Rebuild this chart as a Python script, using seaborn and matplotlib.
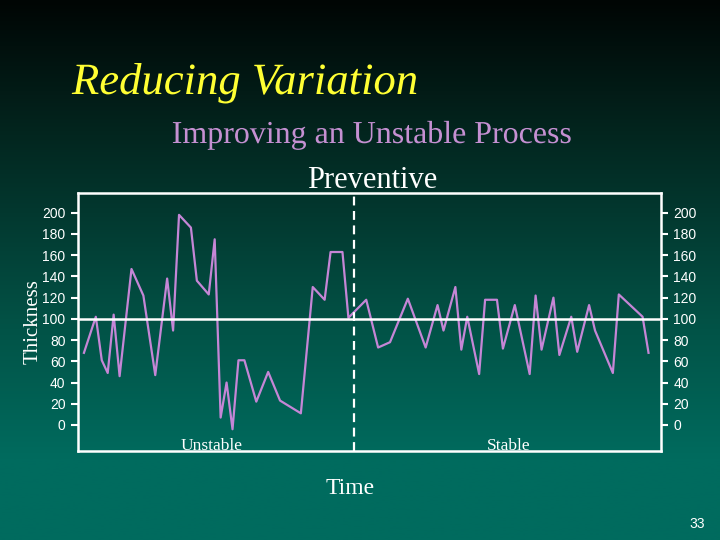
import numpy as np
import pandas as pd
import matplotlib
matplotlib.use("Agg")
import matplotlib.pyplot as plt
import matplotlib.patheffects as pe
from matplotlib import font_manager as fm
from matplotlib.colors import LinearSegmentedColormap
import seaborn as sns

# Data (time index vs thickness)
time = [0, 2, 3, 4, 5, 6, 8, 10, 12, 14, 15, 16, 18, 19, 21, 22, 23, 24,
        25, 26, 27, 29, 31, 33, 36.5, 38.5, 40.5, 41.5, 43.5, 44.5,
        47.5, 49.5, 51.5, 54.5, 57.5, 59.5, 60.5, 62.5, 63.5, 64.5, 66.5, 67.5,
        69.5, 70.5, 72.5, 75, 76, 77, 79, 80, 82, 83, 85, 86, 89, 90, 94, 95]
thickness = [68, 102, 61, 49, 104, 46, 147, 122, 47, 138, 89, 198, 186, 136, 123, 175, 7, 40,
             -4, 61, 61, 22, 50, 23, 11, 130, 118, 163, 163, 101,
             118, 73, 78, 119, 73, 113, 89, 130, 71, 102, 48, 118,
             118, 72, 113, 48, 122, 71, 120, 66, 102, 69, 113, 89, 49, 123, 102, 68]
y_ticks = [0, 20, 40, 60, 80, 100, 120, 140, 160, 180, 200]
target = 100
split_time = 45.45
phase_labels = ["Unstable", "Stable"]
phase_pos = [21.5, 71.4]

df = pd.DataFrame({"time": time, "thickness": thickness})

SERIF = "Liberation Serif"
SANS = "Liberation Sans"
LINE_COLOR = "#c586d6"

# pick a serif italic that is actually installed
styles = {(f.name, f.style) for f in fm.fontManager.ttflist}
ITALIC_SERIF = SERIF
for cand in ["Liberation Serif", "DejaVu Serif", "Noto Serif"]:
    if (cand, "italic") in styles or (cand, "oblique") in styles:
        ITALIC_SERIF = cand
        break

fig = plt.figure(figsize=(7.2, 5.4), dpi=100)

# background gradient (black at top to teal at bottom)
bg = fig.add_axes([0, 0, 1, 1], zorder=-10)
cmap = LinearSegmentedColormap.from_list(
    "slide", [(0.0, "#000504"), (0.25, "#03261f"), (0.6, "#025246"), (0.85, "#006b5e"), (1.0, "#006b5e")])
grad = np.linspace(0, 1, 256).reshape(-1, 1)
bg.imshow(grad, aspect="auto", cmap=cmap, extent=[0, 1, 0, 1], origin="upper")
bg.axis("off")

ax = fig.add_axes([78 / 720, 1 - 451 / 540, 583 / 720, 258 / 540])
ax.set_facecolor("none")

sns.lineplot(data=df, x="time", y="thickness", ax=ax, color=LINE_COLOR,
             linewidth=1.6, estimator=None, sort=False)

ax.axhline(target, color="white", linewidth=1.8, zorder=3)
ax.axvline(split_time, color="white", linewidth=1.6, linestyle=(0, (4, 2.5)), zorder=3)

ax.set_xlim(-1.0, 97.1)
ax.set_ylim(-24.5, 218.6)
ax.set_xticks([])
ax.set_yticks(y_ticks)
ax.tick_params(axis="y", left=True, right=True, labelleft=True, labelright=True,
               direction="out", length=5, width=1.5, colors="white", pad=4,
               labelsize=10)
for lab in ax.get_yticklabels():
    lab.set_fontfamily(SANS)
ax.set_xlabel("")
ax.set_ylabel("")
for sp in ax.spines.values():
    sp.set_color("white")
    sp.set_linewidth(1.8)

for name, xp in zip(phase_labels, phase_pos):
    ax.text(xp, -24.0, name, ha="center", va="baseline", color="white",
            fontsize=12.5, fontfamily=SERIF)

title = fig.text(72 / 720, 1 - 94 / 540, "Reducing Variation", color="#ffff33", fontsize=31,
                 fontstyle="italic", fontfamily=ITALIC_SERIF, ha="left", va="baseline",
                 path_effects=[pe.SimpleLineShadow(offset=(2, -2), shadow_color="black", alpha=0.8),
                               pe.Normal()])
fig.text(372 / 720, 1 - 143 / 540, "Improving an Unstable Process", color="#c590d2",
         fontsize=23, fontfamily=SERIF, ha="center", va="baseline",
         path_effects=[pe.SimpleLineShadow(offset=(1.5, -1.5), shadow_color="black", alpha=0.8),
                       pe.Normal()])
fig.text(372 / 720, 1 - 188 / 540, "Preventive", color="white",
         fontsize=22, fontfamily=SERIF, ha="center", va="baseline")
fig.text(33 / 720, 1 - 322 / 540, "Thickness", color="white", rotation=90,
         fontsize=15, fontfamily=SERIF, ha="center", va="center")
fig.text(350 / 720, 1 - 494 / 540, "Time", color="white",
         fontsize=17, fontfamily=SERIF, ha="center", va="baseline")
fig.text(705 / 720, 1 - 528 / 540, "33", color="white",
         fontsize=10, fontfamily=SANS, ha="right", va="baseline")

# fit the title to the width it has on the slide (~346 px)
fig.canvas.draw()
w = title.get_window_extent(fig.canvas.get_renderer()).width
title.set_fontsize(31 * 346 / w)

fig.savefig("out.png", dpi=100)
